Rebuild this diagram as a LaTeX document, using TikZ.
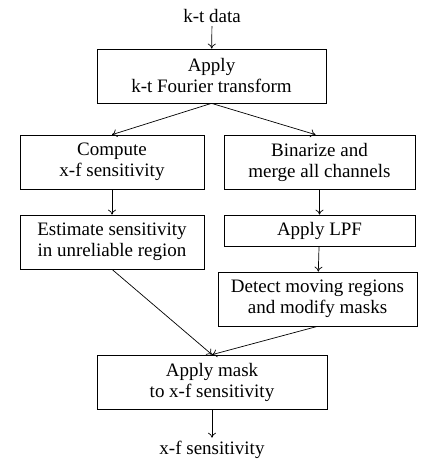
\documentclass[tikz,border=0pt]{standalone}
\usepackage{fontspec}
\setmainfont{Liberation Serif}
\usetikzlibrary{positioning,arrows.meta}

\begin{document}
\begin{tikzpicture}[x=1pt, y=-1pt, font=\fontsize{19}{21}\selectfont,
    blk/.style={draw, line width=0.7pt, align=center, minimum height=54pt, inner sep=2pt},
    flow/.style={-{To[length=5pt,width=8pt]}, line width=0.7pt}]
        \useasboundingbox (0,0) rectangle (421,460);
        \node (kt) at (212,16) {k-t data};
        \node[blk, minimum width=229pt] (fft) at (211.5,76) {Apply\\k-t Fourier transform};
        \node[blk, minimum width=184pt] (comp) at (112,162) {Compute\\x-f sensitivity};
        \node[blk, minimum width=191pt] (bin) at (319.5,162) {Binarize and\\merge all channels};
        \node[blk, minimum width=184pt] (est) at (112,242) {Estimate sensitivity\\in unreliable region};
        \node[blk, minimum width=191pt, minimum height=31pt] (lpf) at (319.5,230.5) {Apply LPF};
        \node[blk, minimum width=199pt] (det) at (317.5,299) {Detect moving regions\\and modify masks};
        \node[blk, minimum width=230pt] (mask) at (212,382) {Apply mask\\to x-f sensitivity};
        \node (xf) at (212,450) {x-f sensitivity};
        \draw[flow] (kt) -- (fft);
        \draw[flow] (fft.south) -- (comp.north);
        \draw[flow] (fft.south) -- ([xshift=-4pt]bin.north);
        \draw[flow] (comp) -- (est);
        \draw[flow] (bin) -- (lpf);
        \draw[flow] (lpf) -- (det);
        \draw[flow] (est.south) -- (mask.north);
        \draw[flow] (det.south) -- (mask.north);
        \draw[flow] (mask) -- (xf);
      \end{tikzpicture}
\end{document}
